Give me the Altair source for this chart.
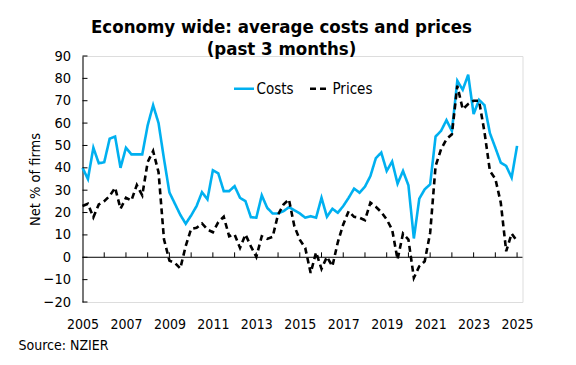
import altair as alt
import pandas as pd

start_year = 2005
costs = [40, 35, 49, 42, 42.5, 53, 54, 40, 49, 46, 46, 46, 59, 68, 60, 44,
         29, 24, 19, 15, 18.7, 22.9, 29.1, 25.9, 38.9, 37.5, 29.6, 29.6, 31.8, 26.6,
         25.1, 17.9, 17.7, 27.7, 22.1, 19.6, 19.6, 20.6, 22.4, 21,
         19.6, 17.7, 18.4, 17.7, 26.6, 18.1, 21.7, 19.9, 22.9, 26.6, 30.7, 28.9,
         31.6, 36.3, 44.3, 46.8, 38.6, 42.8, 32.9, 38.6,
         32.2, 8.4, 26.2, 30.4, 32.6, 54, 56.5, 61.3, 56.5, 78.9, 74.9, 81.6, 64,
         70.4, 68, 55.5, 49, 42.3, 40.8, 35.6, 49.8]
prices = [22.9, 23.9, 17.9, 23.6, 25.1, 27.4, 31.1, 21.7, 26.6, 25.4, 32.3, 27.7,
          42.6, 47.5, 38, 8,
          -1.5, -2.5, -5, 5,
          12.7, 13.2, 15.1, 12.4, 11.2, 15.7, 18.1, 9.4, 10.2, 4.2, 10.2, 4.9, 0.2,
          9.4, 8.2, 9.1, 19.1, 23.6, 25.9, 13.9,
          7.9, 4.2, -7, 2.2, -5.2, 0.2, -4, 6.7, 14.7, 20.6, 18.1, 17.7, 16.6, 24.4,
          22.6, 20.2, 16.9, 12.4, -1, 10.6, 7.9,
          -9.2, -4, -1.8, 10.9, 40.8, 48.3, 52.8, 55, 76.7, 66.2, 68.5, 70, 70, 56,
          38.6, 35.1, 24.4, 2.7, 10.6, 7.2]
series_names = ["Costs", "Prices"]
x_label_years = list(range(2005, 2026, 2))
x_tick_years = list(range(2006, 2026))
y_ticks = list(range(-20, 100, 10))
source_text = "Source: NZIER"

FONT = "DejaVu Sans Condensed, DejaVu Sans"

rows = []
for i, v in enumerate(costs):
    rows.append({"t": start_year + i / 4, "series": "Costs", "value": v})
for i, v in enumerate(prices):
    rows.append({"t": start_year + i / 4, "series": "Prices", "value": v})
df = pd.DataFrame(rows)

xscale = alt.Scale(domain=[2005, 2025.25], nice=False, zero=False)
yscale = alt.Scale(domain=[-20, 90], nice=False)

x_axis = alt.Axis(values=x_label_years, format="d", domain=False, ticks=False,
                  grid=False, labelFontSize=14, labelPadding=15,
                  labelOverlap=False, labelFlush=False, labelBound=False,
                  labelColor="black", title=None, labelFont=FONT)
y_axis = alt.Axis(values=y_ticks, domain=True, domainColor="black",
                  ticks=False, tickSize=0, grid=False, labelFontSize=14.5,
                  labelOverlap=False, labelFlush=False, labelBound=False,
                  labelPadding=12, labelColor="black",
                  labelFont=FONT, title="Net % of firms", titleFontSize=14.5,
                  titleFontWeight="normal", titleFont=FONT,
                  titleColor="black", titlePadding=0)

leg = alt.Legend(title=None, orient="none", legendX=150, legendY=21,
                 direction="horizontal", symbolType="stroke", symbolSize=400,
                 symbolStrokeWidth=2.6, labelFontSize=15, labelFont=FONT,
                 labelColor="black", labelOffset=1, columnPadding=10, padding=0)

lines = alt.Chart(df).mark_line(strokeWidth=2.6).encode(
    x=alt.X("t:Q", scale=xscale, axis=x_axis),
    y=alt.Y("value:Q", scale=yscale, axis=y_axis),
    color=alt.Color("series:N",
                    scale=alt.Scale(domain=series_names, range=["#00B0F0", "black"]),
                    legend=leg),
    strokeDash=alt.StrokeDash("series:N",
                              scale=alt.Scale(domain=series_names, range=[[1, 0], [6, 4]]),
                              legend=leg),
)

zero = alt.Chart(pd.DataFrame({"z": [0]})).mark_rule(color="black", strokeWidth=1).encode(
    y=alt.Y("z:Q", scale=yscale, axis=y_axis))

xt_df = pd.DataFrame({"yr": x_tick_years, "y0": [0] * len(x_tick_years),
                      "y1": [2.2] * len(x_tick_years)})
xt = alt.Chart(xt_df).mark_rule(color="black", strokeWidth=1).encode(
    x=alt.X("yr:Q", scale=xscale, axis=x_axis),
    y=alt.Y("y0:Q", scale=yscale, axis=y_axis), y2="y1:Q")

yt_df = pd.DataFrame({"v": y_ticks, "x0": [2005] * len(y_ticks),
                      "x1": [2005.23] * len(y_ticks)})
yt = alt.Chart(yt_df).mark_rule(color="black", strokeWidth=1).encode(
    y=alt.Y("v:Q", scale=yscale, axis=y_axis),
    x=alt.X("x0:Q", scale=xscale, axis=x_axis), x2="x1:Q")

src = alt.Chart(pd.DataFrame({"s": [source_text]})).mark_text(
    align="left", baseline="middle", fontSize=14, font=FONT, color="black"
).encode(text="s:N", x=alt.value(-64), y=alt.value(290))

chart = alt.layer(lines, zero, xt, yt, src).properties(
    width=440, height=246,
    title=alt.Title(["Economy wide: average costs and prices", "(past 3 months)"],
                    fontSize=18.5, fontWeight="bold", font=FONT, color="black",
                    anchor="middle", dx=-21, lineHeight=22, offset=-10),
    autosize=alt.AutoSizeParams(type="none"),
    padding={"left": 74.5, "top": 48, "right": 40, "bottom": 50},
).configure_view(stroke=None).configure(background="white")

chart.save("out.html", embed_options={"renderer": "svg", "actions": False})
